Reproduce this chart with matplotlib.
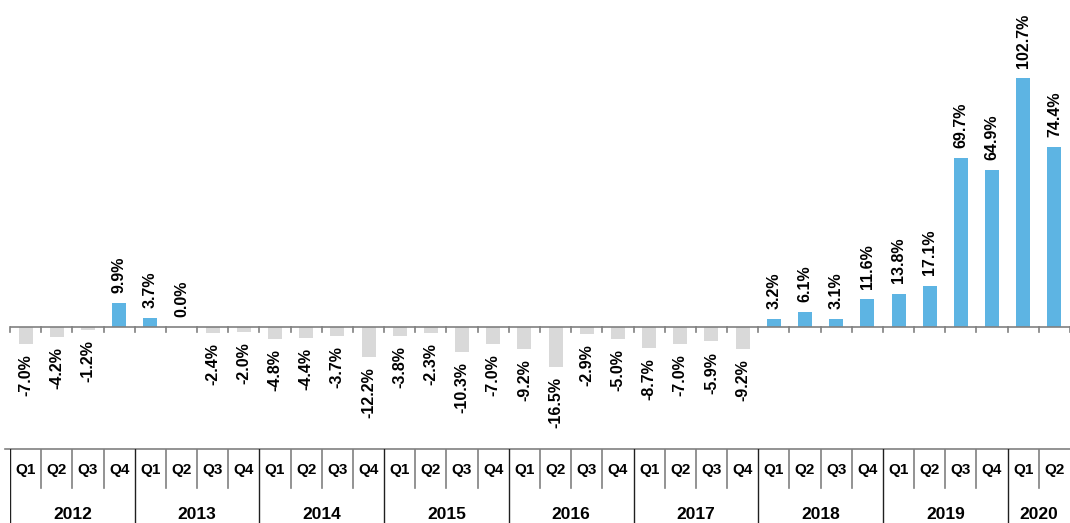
import numpy as np
import matplotlib.pyplot as plt

plt.rcParams['font.family'] = ['Liberation Sans', 'DejaVu Sans']

years = ['2012', '2013', '2014', '2015', '2016', '2017', '2018', '2019', '2020']
quarters_per_year = [4, 4, 4, 4, 4, 4, 4, 4, 2]
values = [-7.0, -4.2, -1.2, 9.9,
          3.7, 0.0, -2.4, -2.0,
          -4.8, -4.4, -3.7, -12.2,
          -3.8, -2.3, -10.3, -7.0,
          -9.2, -16.5, -2.9, -5.0,
          -8.7, -7.0, -5.9, -9.2,
          3.2, 6.1, 3.1, 11.6,
          13.8, 17.1, 69.7, 64.9,
          102.7, 74.4]

blue = '#5DB4E3'
grey = '#D9D9D9'

n = len(values)
x = np.arange(n) + 0.5
colors = [blue if v > 0 else grey for v in values]

fig = plt.figure(figsize=(10.7, 5.23), dpi=100)
left = 10 / 1070
axw = 1060 / 1070
ax = fig.add_axes([left, (523 - 449) / 523, axw, 449 / 523])

ax.bar(x, values, 0.45, color=colors, zorder=2)
ax.set_xlim(0, n)
ax.set_ylim(-(449 - 327) / 2.42, 327 / 2.42)

for xi, v in zip(x, values):
    if v >= 0:
        ax.annotate(f'{v:.1f}%', (xi, v), xytext=(0, 7.5), textcoords='offset points',
                    rotation=90, ha='center', va='bottom', fontsize=11.5, fontweight='bold')
    else:
        ax.annotate(f'{v:.1f}%', (xi, v), xytext=(0, -7.5), textcoords='offset points',
                    rotation=90, ha='center', va='top', fontsize=11.5, fontweight='bold')

ax.axhline(0, color='#808080', lw=1.2, zorder=3)
for b in range(n + 1):
    ax.plot([b, b], [0, -2.2], color='#808080', lw=1.2, zorder=3, clip_on=False)
for s in ax.spines.values():
    s.set_visible(False)
ax.set_xticks([])
ax.set_yticks([])

# category table
tab = fig.add_axes([left, 0, axw, 74 / 523])
tab.set_xlim(0, n)
tab.set_ylim(0, 1)
tab.axis('off')
tab.plot([-0.15, n], [1, 1], color='#808080', lw=1.2, clip_on=False)
qnames = ['Q1', 'Q2', 'Q3', 'Q4']
pos = 0
for yr, nq in zip(years, quarters_per_year):
    tab.plot([pos, pos], [0, 1], color='#202020', lw=1)
    for q in range(nq):
        if q > 0:
            tab.plot([pos + q, pos + q], [0.47, 1], color='#808080', lw=1.2)
        tab.text(pos + q + 0.5, 0.71, qnames[q], ha='center', va='center',
                 fontsize=11, fontweight='bold')
    tab.text(pos + nq / 2, 0.02, yr, ha='center', va='bottom',
             fontsize=12.5, fontweight='bold')
    pos += nq

fig.savefig('out.png', dpi=100)
